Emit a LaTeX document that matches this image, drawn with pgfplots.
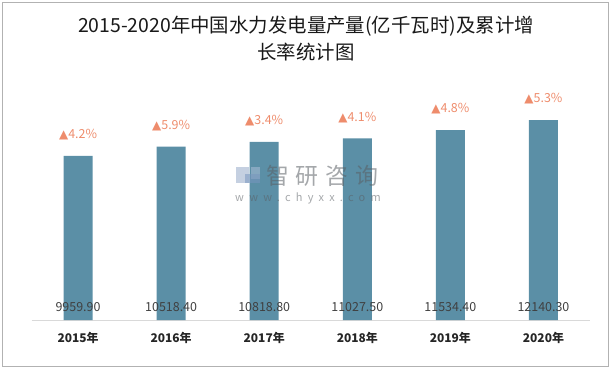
\documentclass[border=0pt]{standalone}
\usepackage{fontspec}
\setmainfont{Noto Sans CJK SC}
\newfontfamily\symf{DejaVu Sans}
\newfontfamily\wmfont[LetterSpace=30]{Noto Sans CJK SC}
\newfontfamily\wmfontb[LetterSpace=48]{Noto Sans CJK SC}
\usepackage{pgfplots}
\usepackage{pgfplotstable}
\pgfplotsset{compat=1.18}
\definecolor{barc}{RGB}{91,143,166}
\definecolor{pctc}{RGB}{238,140,108}
\definecolor{valc}{RGB}{64,64,64}
\definecolor{wmc}{RGB}{90,95,100}
\definecolor{wm1}{RGB}{150,170,200}
\definecolor{wm2}{RGB}{170,190,215}
\definecolor{wm3}{RGB}{120,150,190}
\pgfplotstableread{
x y lab pct
0 9959.9 9959.90 4.2
1 10518.4 10518.40 5.9
2 10818.8 10818.80 3.4
3 11027.5 11027.50 4.1
4 11534.4 11534.40 4.8
5 12140.3 12140.30 5.3
}\data
\begin{document}
\begin{tikzpicture}[x=1bp,y=1bp]
\useasboundingbox (0,0) rectangle (612,369);
\draw[black!30, line width=1bp] (2.5,2.5) rectangle (608.5,366.5);
\node[font=\fontsize{19.5}{27}\selectfont, align=center, text=black!90] at (306,330.5) {2015-2020年中国水力发电量产量(亿千瓦时)及累计增\\长率统计图};
\begin{axis}[
  at={(31.5bp,49bp)}, anchor=south west,
  scale only axis, width=558.5bp, height=230.6bp,
  xmin=-0.5, xmax=5.5, ymin=0, ymax=14000,
  axis y line=none,
  axis x line=bottom,
  x axis line style={-, draw=black!15, line width=1bp},
  xtick={0,1,2,3,4,5},
  xticklabels={2015年,2016年,2017年,2018年,2019年,2020年},
  major tick length=0pt,
  xticklabel style={font=\bfseries\fontsize{12}{14}\selectfont, text=black!85, yshift=-9bp},
  ytick=\empty,
  clip=false,
]
\addplot[ybar, bar width=29bp, fill=barc, draw=none,
  point meta=explicit symbolic,
  nodes near coords={{\symf\fontsize{12}{12}\selectfont ▲}\pgfplotspointmeta\%},
  every node near coord/.append style={anchor=center, inner sep=0pt, yshift=21bp, text=pctc, font=\fontsize{12.5}{13}\selectfont}
] table[x=x, y=y, meta=pct]{\data};
\addplot[draw=none, mark=none,
  point meta=explicit symbolic,
  nodes near coords={\pgfplotspointmeta},
  every node near coord/.append style={anchor=center, inner sep=0pt, yshift=13bp, text=valc, font=\fontsize{12.5}{13}\selectfont}
] table[x=x, y expr=0, meta=lab]{\data};
\end{axis}
% watermark
\begin{scope}[opacity=0.55]
\fill[wm1] (236,186) rectangle (249,202);
\fill[wm2] (251,190) rectangle (260,202);
\fill[wm3] (245,186) rectangle (260,195);
\node[font=\wmfont\fontsize{23}{23}\selectfont, text=wmc, anchor=west, inner sep=0pt] at (266,193.5) {智研咨询};
\node[font=\wmfontb\fontsize{11}{11}\selectfont, text=wmc, anchor=west, inner sep=0pt] at (235,171) {www.chyxx.com};
\end{scope}
\end{tikzpicture}
\end{document}
